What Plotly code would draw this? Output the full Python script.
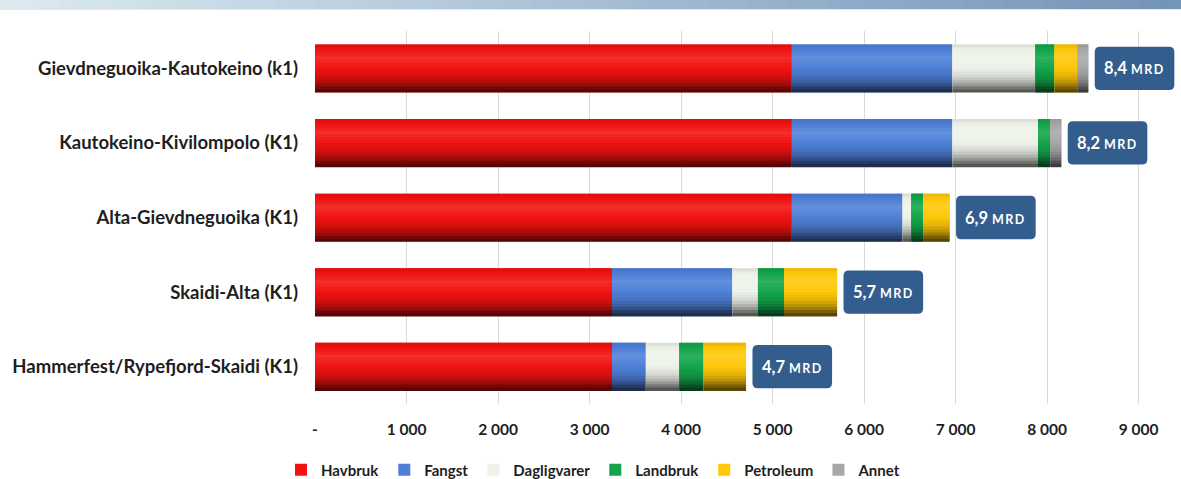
import plotly.graph_objects as go
import numpy as np

categories = ["Gievdneguoika-Kautokeino (k1)", "Kautokeino-Kivilompolo (K1)",
              "Alta-Gievdneguoika (K1)", "Skaidi-Alta (K1)",
              "Hammerfest/Rypefjord-Skaidi (K1)"]
havbruk = [5210, 5210, 5210, 3245, 3245]
fangst = [1755, 1755, 1210, 1315, 370]
dagligvarer = [905, 935, 95, 280, 365]
landbruk = [210, 135, 130, 285, 265]
petroleum = [250, 0, 290, 580, 465]
annet = [120, 120, 0, 0, 0]
total_labels = ["8,4", "8,2", "6,9", "5,7", "4,7"]
tick_vals = [0, 1000, 2000, 3000, 4000, 5000, 6000, 7000, 8000, 9000]
tick_text = ["-", "1 000", "2 000", "3 000", "4 000", "5 000", "6 000", "7 000", "8 000", "9 000"]

series_names = ["Havbruk", "Fangst", "Dagligvarer", "Landbruk", "Petroleum", "Annet"]
series_values = [havbruk, fangst, dagligvarer, landbruk, petroleum, annet]
series_colors = ["#f21212", "#4f80d8", "#eef3ea", "#14a64c", "#ffc80a", "#a8a8a8"]

FONT = "Lato, 'Open Sans', sans-serif"
TXT = "#1e1e1e"


def hex_rgb(h):
    h = h.lstrip("#")
    return np.array([int(h[i:i + 2], 16) for i in (0, 2, 4)], dtype=float)


def shade(col, f):
    c = hex_rgb(col)
    if f >= 1:
        c = c + (255 - c) * (f - 1)
    else:
        c = c * f
    c = np.clip(c, 0, 255).astype(int)
    return f"rgb({c[0]},{c[1]},{c[2]})"


# vertical shading profile of the "cylinder" bars (top -> bottom)
prof_t = [0.0, 0.08, 0.28, 0.5, 0.68, 0.82, 0.92, 1.0]
prof_f = [0.90, 0.97, 1.12, 1.0, 0.88, 0.68, 0.45, 0.30]

BAR_W = 0.64
N_BANDS = 16
band = BAR_W / N_BANDS

fig = go.Figure()
starts = np.zeros(len(categories))
for name, vals, col in zip(series_names, series_values, series_colors):
    vals = np.array(vals, dtype=float)
    fig.add_trace(go.Bar(y=categories, x=vals, base=starts.copy(), name=name,
                         orientation="h", width=BAR_W, offset=-BAR_W / 2,
                         marker=dict(color=col, line=dict(width=0))))
    for j in range(N_BANDS):
        t = (j + 0.5) / N_BANDS
        f = float(np.interp(t, prof_t, prof_f))
        fig.add_trace(go.Bar(y=categories, x=vals, base=starts.copy(), name=name,
                             orientation="h", width=band * 1.15,
                             offset=-BAR_W / 2 + j * band,
                             marker=dict(color=shade(col, f), line=dict(width=0)),
                             showlegend=False, hoverinfo="skip"))
    starts = starts + vals

totals = starts
gap = 70
bw = 870
bh = 0.29
r_x = 60
r_y = 0.07
shapes = []
annotations = []
for i, (t, lab) in enumerate(zip(totals, total_labels)):
    x0 = t + gap
    x1 = x0 + bw
    y0 = i - bh
    y1 = i + bh
    path = (f"M {x0 + r_x},{y0} L {x1 - r_x},{y0} Q {x1},{y0} {x1},{y0 + r_y} "
            f"L {x1},{y1 - r_y} Q {x1},{y1} {x1 - r_x},{y1} L {x0 + r_x},{y1} "
            f"Q {x0},{y1} {x0},{y1 - r_y} L {x0},{y0 + r_y} Q {x0},{y0} {x0 + r_x},{y0} Z")
    shapes.append(dict(type="path", path=path, xref="x", yref="y",
                       fillcolor="#325d8c", line=dict(width=0), layer="above"))
    annotations.append(dict(x=(x0 + x1) / 2, y=i, xref="x", yref="y", showarrow=False,
                            text=(f"{lab} <span style='font-size:12.5px;letter-spacing:1.5px'>"
                                  f"MRD</span>"),
                            font=dict(family=FONT, size=16.5, color="white", weight="bold")))

# header gradient strip
c0 = np.array([0xdc, 0xea, 0xf0])
c1 = np.array([0x74, 0x94, 0xb8])
n = 60
PW = 863
left = -315 / PW
right = (1181 - 315) / PW
PH = 373
for k in range(n):
    f = k / (n - 1)
    c = (c0 + (c1 - c0) * f).astype(int)
    xa = left + (right - left) * k / n
    xb = left + (right - left) * (k + 1) / n + 0.002
    shapes.append(dict(type="rect", xref="paper", yref="paper", x0=xa, x1=xb,
                       y0=1 + 22 / PH, y1=1 + 32 / PH,
                       fillcolor=f"rgb({c[0]},{c[1]},{c[2]})", line=dict(width=0), layer="above"))
shapes.append(dict(type="line", xref="paper", yref="paper", x0=left, x1=right,
                   y0=1 + 21.5 / PH, y1=1 + 21.5 / PH, line=dict(color="#e4e8ec", width=1)))

fig.update_layout(
    barmode="overlay",
    width=1181, height=479,
    margin=dict(l=315, r=3, t=31, b=75, autoexpand=False),
    plot_bgcolor="white", paper_bgcolor="white",
    font=dict(family=FONT, color=TXT),
    shapes=shapes,
    annotations=annotations,
    showlegend=True,
    legend=dict(orientation="h", x=-0.0394, xanchor="left",
                y=-66 / PH, yanchor="middle",
                font=dict(family=FONT, size=15, color=TXT, weight="bold"),
                traceorder="normal", itemwidth=30),
    xaxis=dict(range=[0, 9430], tickvals=tick_vals, ticktext=tick_text,
               showgrid=True, gridcolor="#d9d9d9", gridwidth=1, zeroline=False,
               showline=False, ticks="", ticklabelstandoff=14,
               tickfont=dict(family=FONT, size=15.5, color=TXT, weight="bold")),
    yaxis=dict(autorange="reversed", showgrid=False, showline=False, ticks="",
               ticklabelstandoff=16,
               tickfont=dict(family=FONT, size=18.5, color=TXT, weight="bold")),
)

fig.write_html("out.html")
